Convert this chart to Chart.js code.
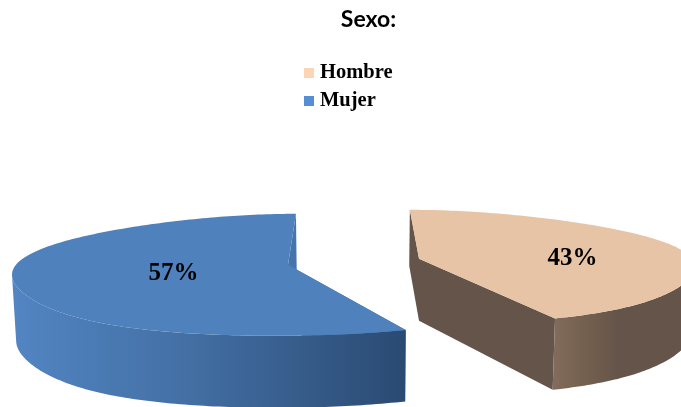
<!DOCTYPE html>
<html>
<head>
<meta charset="utf-8">
<title>Sexo</title>
<script src="https://cdn.jsdelivr.net/npm/chart.js@4"></script>
<style>
  html, body { margin: 0; padding: 0; background: #fff; }
  canvas { display: block; }
</style>
</head>
<body>
<canvas id="myChart" width="681" height="407"></canvas>
<script>
const chartTitle = 'Sexo:';
const categories = ['Hombre', 'Mujer'];
const values = [43, 57];
const legendColors = ['#fcd5b5', '#558ed5'];

// apariencia 3D de cada porcion
const topColors = ['#e6c4a5', '#4f81bd'];
const faceColors = ['#65544a', '#4675ae'];
const rimStops = [
  [[0, '#816b5c'], [0.2, '#75614f'], [0.45, '#65544a'], [1, '#65544a']],
  [[0, '#5285c2'], [0.45, '#436fa4'], [1, '#2a4a72']]
];
const explodeX = [50.5, -83.5];
const apexDx = [0, 3];
const apexY = [-11, -5];
const ellipseY = [-3, 5];
const radiusX = [276, 273];
const radiusY = [57, 61];
const labelFrac = [0.57, 0.43];
const labelY = [7, 3];

const vanishX = 358;
const serif = '"Liberation Serif", serif';

// el cuadro de la leyenda queda mas cerca del texto que lo que permite boxWidth
function swatch(color) {
  const c = document.createElement('canvas');
  c.width = 10;
  c.height = 10;
  const g = c.getContext('2d');
  g.fillStyle = color;
  g.fillRect(0, 0, 10, 10);
  return c;
}

const pie3d = {
  id: 'pie3d',
  // el arco plano se reemplaza por la version en perspectiva
  beforeDatasetDraw() {
    return false;
  },
  afterLayout(chart) {
    const legend = chart.legend;
    legend.left = 300.75;
    legend.right = 460;
    legend.top = 55;
    legend.bottom = 132;
  },
  afterDatasetsDraw(chart) {
    const ctx = chart.ctx;
    const arcs = chart.getDatasetMeta(0).data;

    arcs.forEach((arc, i) => {
      const cx = arc.x + explodeX[i];
      const cy = arc.y + ellipseY[i];
      const ax = cx + apexDx[i];
      const ay = arc.y + apexY[i];
      const rx = radiusX[i];
      const ry = radiusY[i];
      const from = arc.startAngle + Math.PI / 2;
      const to = arc.endAngle + Math.PI / 2;

      const rim = (t) => {
        const c = Math.cos(t);
        const k = c > 0 ? 0.15 : 0.14;
        const s = 1 - k * c * c * c;
        return { x: vanishX + (cx + rx * Math.sin(t) - vanishX) * s, y: cy - ry * c };
      };
      const lower = (t) => {
        const c = Math.cos(t);
        const p = rim(t);
        const d = c > 0 ? 66 - 10 * c : 66 - 6 * c;
        return { x: p.x + (vanishX - p.x) * 0.012, y: p.y + d };
      };

      const poly = (pts, fill) => {
        ctx.beginPath();
        pts.forEach((p, n) => (n ? ctx.lineTo(p.x, p.y) : ctx.moveTo(p.x, p.y)));
        ctx.closePath();
        ctx.fillStyle = fill;
        ctx.fill();
      };

      // caras de corte
      [from, to].forEach((t) => {
        poly([{ x: ax, y: ay }, rim(t), lower(t), { x: ax, y: ay + 62 }], faceColors[i]);
      });

      // borde frontal
      const steps = [];
      for (let t = from; t < to; t += Math.PI / 180) {
        if (Math.cos(t) <= 0) steps.push(t);
      }
      if (Math.cos(to) <= 0) steps.push(to);
      const top = steps.map(rim);
      const bottom = steps.map(lower).reverse();
      const xs = top.map((p) => p.x);
      const grad = ctx.createLinearGradient(Math.min(...xs), 0, Math.max(...xs), 0);
      rimStops[i].forEach((st) => grad.addColorStop(st[0], st[1]));
      poly(top.concat(bottom), grad);

      // cara superior
      const face = [{ x: ax, y: ay }];
      for (let t = from; t < to; t += Math.PI / 180) face.push(rim(t));
      face.push(rim(to));
      poly(face, topColors[i]);

      // etiqueta
      const mid = (from + to) / 2;
      ctx.fillStyle = '#000';
      ctx.font = 'bold 25px ' + serif;
      ctx.textAlign = 'center';
      ctx.textBaseline = 'middle';
      ctx.fillText(
        values[i] + '%',
        ax + rx * labelFrac[i] * Math.sin(mid),
        ay - ry * labelFrac[i] * Math.cos(mid) + labelY[i]
      );
    });
  }
};

new Chart(document.getElementById('myChart'), {
  type: 'pie',
  data: {
    labels: categories,
    datasets: [{
      data: values,
      backgroundColor: legendColors,
      borderWidth: 0
    }]
  },
  plugins: [pie3d],
  options: {
    responsive: false,
    animation: false,
    radius: 276,
    events: [],
    layout: { padding: { left: 56 } },
    plugins: {
      tooltip: { enabled: false },
      title: {
        display: true,
        text: chartTitle,
        color: '#000',
        font: { family: 'Lato', size: 23, weight: 'bold' },
        padding: { top: 6, bottom: 99 }
      },
      legend: {
        position: 'chartArea',
        align: 'start',
        labels: {
          usePointStyle: true,
          pointStyleWidth: 1.5,
          boxHeight: 10,
          padding: 7.5,
          color: '#000',
          font: { family: serif, size: 20.5, weight: 'bold' },
          generateLabels: () => categories.map((name, i) => ({
            text: name,
            pointStyle: swatch(legendColors[i]),
            fillStyle: legendColors[i],
            strokeStyle: legendColors[i],
            lineWidth: 0,
            fontColor: '#000',
            hidden: false,
            index: i
          }))
        }
      }
    }
  }
});
</script>
</body>
</html>
